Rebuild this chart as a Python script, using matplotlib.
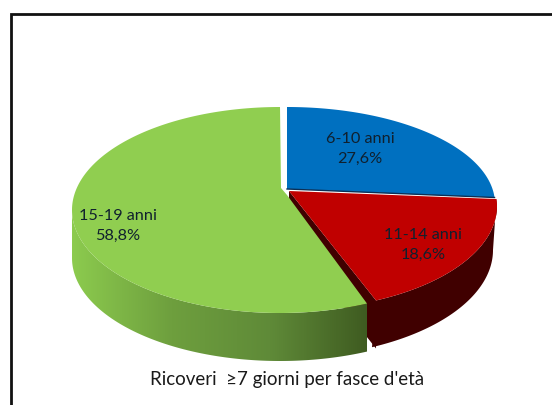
import matplotlib
matplotlib.use('Agg')
import matplotlib.pyplot as plt
from matplotlib.colors import LinearSegmentedColormap
from matplotlib.patches import Polygon
import numpy as np

categories = ['6-10 anni', '11-14 anni', '15-19 anni']
values = [27.6, 18.6, 58.8]
title = "Ricoveri  \u22657 giorni per fasce d'et\u00e0"

plt.rcParams['font.family'] = ['Lato', 'DejaVu Sans']

fig = plt.figure(figsize=(5.52, 4.05), dpi=100)
ax = fig.add_axes([0, 0, 1, 1])


def skew(a):
    # the 3d view squeezes the angles, real share -> angle on the ellipse
    return a - 8.5 * np.sin(np.radians(a))


def arc(cx, cy, rx, ry, a0, a1):
    t = np.radians(np.linspace(a0, a1, 200))
    return np.column_stack([cx + rx * np.sin(t), cy - ry * np.cos(t)])


def gradient_wall(pts, colors, x0, x1, y0, y1):
    cmap = LinearSegmentedColormap.from_list('wall', colors)
    poly = Polygon(pts, closed=True, fc='none', ec='none', transform=ax.transData)
    ax.add_patch(poly)
    im = ax.imshow(np.linspace(0, 1, 256).reshape(1, -1), cmap=cmap, aspect='auto',
                   extent=(x0, x1, y1, y0), zorder=2)
    im.set_clip_path(poly)


# the printed percentages add up to 105, the slices follow the share of that
total = sum(values)
scaled = np.cumsum(values) / total * 360
blue_end = skew(scaled[0])
red_end = skew(scaled[1])
depth = 48

# red, outer wall and inner side first so that green lies over them
dark_red = '#400000'
top_arc = arc(289, 206, 208, 104, blue_end, red_end)
low_arc = arc(285, 250, 208, 107, 90, red_end)
red = np.vstack([[289, 191], top_arc])
ax.add_patch(Polygon(np.vstack([top_arc, low_arc[::-1]]), closed=True,
                     fc=dark_red, ec='none', zorder=1))
ax.add_patch(Polygon(np.vstack([red[[0, -1]], red[[-1, 0]] + [0, depth]]), closed=True,
                     fc=dark_red, ec='none', zorder=1))
ax.add_patch(Polygon(red, closed=True, fc='#C00000', ec='none', zorder=3))

# blue
blue = np.vstack([[287, 189], arc(287, 204, 208, 97, 0, blue_end)])
ax.add_patch(Polygon(blue, closed=True, fc='#0070C0', ec='none', zorder=4))
ax.plot(blue[[0, -1], 0], blue[[0, -1], 1], color='#0B2F55', lw=1, zorder=4)

# green
green_arc = arc(280, 210, 208, 103, red_end, 360)
wall_arc = arc(280, 210, 208, 103, red_end, 270)
wall = np.vstack([wall_arc, wall_arc[::-1] + [0, depth]])
gradient_wall(wall, ['#8CCB4E', '#6E9F3E', '#5F8A38', '#3E5A20'], 72, 370, 200, 365)
green = np.vstack([[281, 188], [287, 195], green_arc])
ax.add_patch(Polygon(green, closed=True, fc='#90CE50', ec='none', zorder=5))

# labels
label_pos = [(360, 149), (423, 245), (118, 226)]
for name, val, pos in zip(categories, values, label_pos):
    txt = name + '\n' + ('%.1f' % val).replace('.', ',') + '%'
    ax.text(pos[0], pos[1], txt, fontsize=11.7, color='#10202E', ha='center',
            va='center', linespacing=1.5, zorder=6)
ax.text(287, 379, title, fontsize=13.5, color='#1A1A1A', ha='center', va='center', zorder=6)

# frame, right and bottom side fall outside the picture
ax.plot([11, 11, 552], [405, 13.5, 13.5], color='#111111', lw=2, zorder=7,
        solid_joinstyle='miter')

ax.set_xlim(0, 552)
ax.set_ylim(405, 0)
ax.axis('off')
fig.savefig('out.png', dpi=100, facecolor='white')
